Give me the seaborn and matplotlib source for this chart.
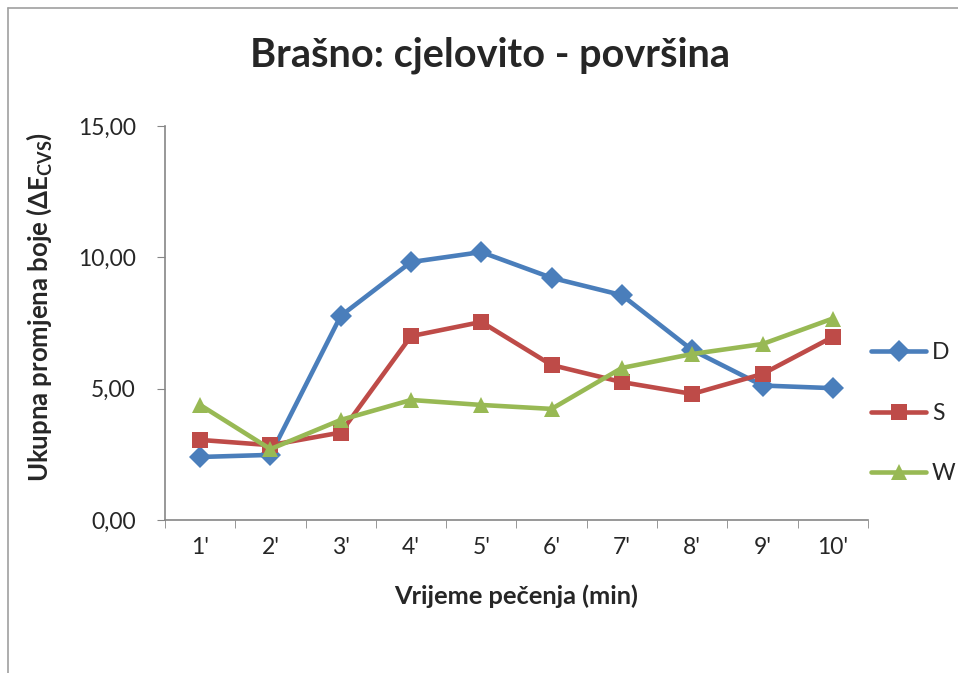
import matplotlib
matplotlib.use('Agg')
import matplotlib.pyplot as plt
from matplotlib.lines import Line2D
from matplotlib.ticker import FuncFormatter, MultipleLocator, FixedLocator
import seaborn as sns
import pandas as pd

# ─── Data ───────────────────────────────────────────────────────────────────
times = ["1'", "2'", "3'", "4'", "5'", "6'", "7'", "8'", "9'", "10'"]
d_vals = [2.40, 2.48, 7.77, 9.82, 10.20, 9.22, 8.56, 6.47, 5.12, 5.02]
s_vals = [3.05, 2.85, 3.33, 7.00, 7.54, 5.90, 5.25, 4.80, 5.56, 6.97]
w_vals = [4.38, 2.70, 3.81, 4.57, 4.38, 4.23, 5.79, 6.32, 6.70, 7.67]
series = ['D', 'S', 'W']
colors = {'D': '#4A7EBB', 'S': '#BE4B48', 'W': '#98B954'}
markers = {'D': 'D', 'S': 's', 'W': '^'}

rows = []
for name, vals in zip(series, [d_vals, s_vals, w_vals]):
    for i, v in enumerate(vals):
        rows.append({'pos': i, 'time': times[i], 'val': v, 'series': name})
df = pd.DataFrame(rows)

sns.set_style('white')
plt.rcParams['font.family'] = ['Lato', 'DejaVu Sans']
plt.rcParams['mathtext.fontset'] = 'custom'
plt.rcParams['mathtext.rm'] = 'Lato:bold'
plt.rcParams['mathtext.bf'] = 'Lato:bold'

fig = plt.figure(figsize=(9.58, 6.73), dpi=100)
ax = fig.add_axes([0.1722, 0.2273, 0.7338, 0.5855])

sns.lineplot(data=df, x='pos', y='val', hue='series', style='series',
             palette=colors, markers=markers, dashes=False, ax=ax,
             linewidth=3.3, markersize=11.5, markeredgewidth=0, legend=False)

ax.set_xlim(-0.5, 9.5)
ax.set_ylim(0, 15)
ax.yaxis.set_major_locator(MultipleLocator(5))
ax.yaxis.set_major_formatter(FuncFormatter(lambda v, p: f'{v:.2f}'.replace('.', ',')))
ax.xaxis.set_major_locator(FixedLocator(range(len(times))))
ax.set_xticklabels(times)
ax.xaxis.set_minor_locator(FixedLocator([i - 0.5 for i in range(len(times) + 1)]))

grey = '#868686'
for sp in ['top', 'right']:
    ax.spines[sp].set_visible(False)
for sp in ['left', 'bottom']:
    ax.spines[sp].set_color(grey)
    ax.spines[sp].set_linewidth(1.2)

ax.tick_params(axis='y', which='major', direction='out', length=6, color=grey,
               labelsize=16.5, pad=15, left=True)
ax.tick_params(axis='x', which='major', length=0, labelsize=16.5, pad=12)
ax.tick_params(axis='x', which='minor', direction='out', length=6, color=grey,
               bottom=True)

ax.set_xlabel('Vrijeme pečenja (min)', fontsize=18.3, fontweight='bold', labelpad=19)
ax.set_ylabel('Ukupna promjena boje (ΔE$_{\\mathrm{CVS}}$)', fontsize=18.5,
              fontweight='bold')
ax.yaxis.set_label_coords(-0.158, 0.54)

fig.text(0.512, 0.918, 'Brašno: cjelovito - površina', ha='center', va='center',
         fontsize=28.5, fontweight='bold')

handles = [Line2D([], [], color=colors[s], marker=markers[s], linewidth=3.3,
                  markersize=11.5, markeredgewidth=0) for s in series]
ax.legend(handles, series, loc='center left', bbox_to_anchor=(0.888, 0.386),
          bbox_transform=fig.transFigure, frameon=False, fontsize=16.5,
          handlelength=2.4, labelspacing=1.72, handletextpad=0.25)

# chart border (Excel style)
fig.add_artist(Line2D([0.008, 0.008], [0, 0.988], color='#A0A0A0', lw=1.2,
                      transform=fig.transFigure))
fig.add_artist(Line2D([0.008, 1.0], [0.988, 0.988], color='#A0A0A0', lw=1.2,
                      transform=fig.transFigure))

fig.savefig('out.png', dpi=100)
